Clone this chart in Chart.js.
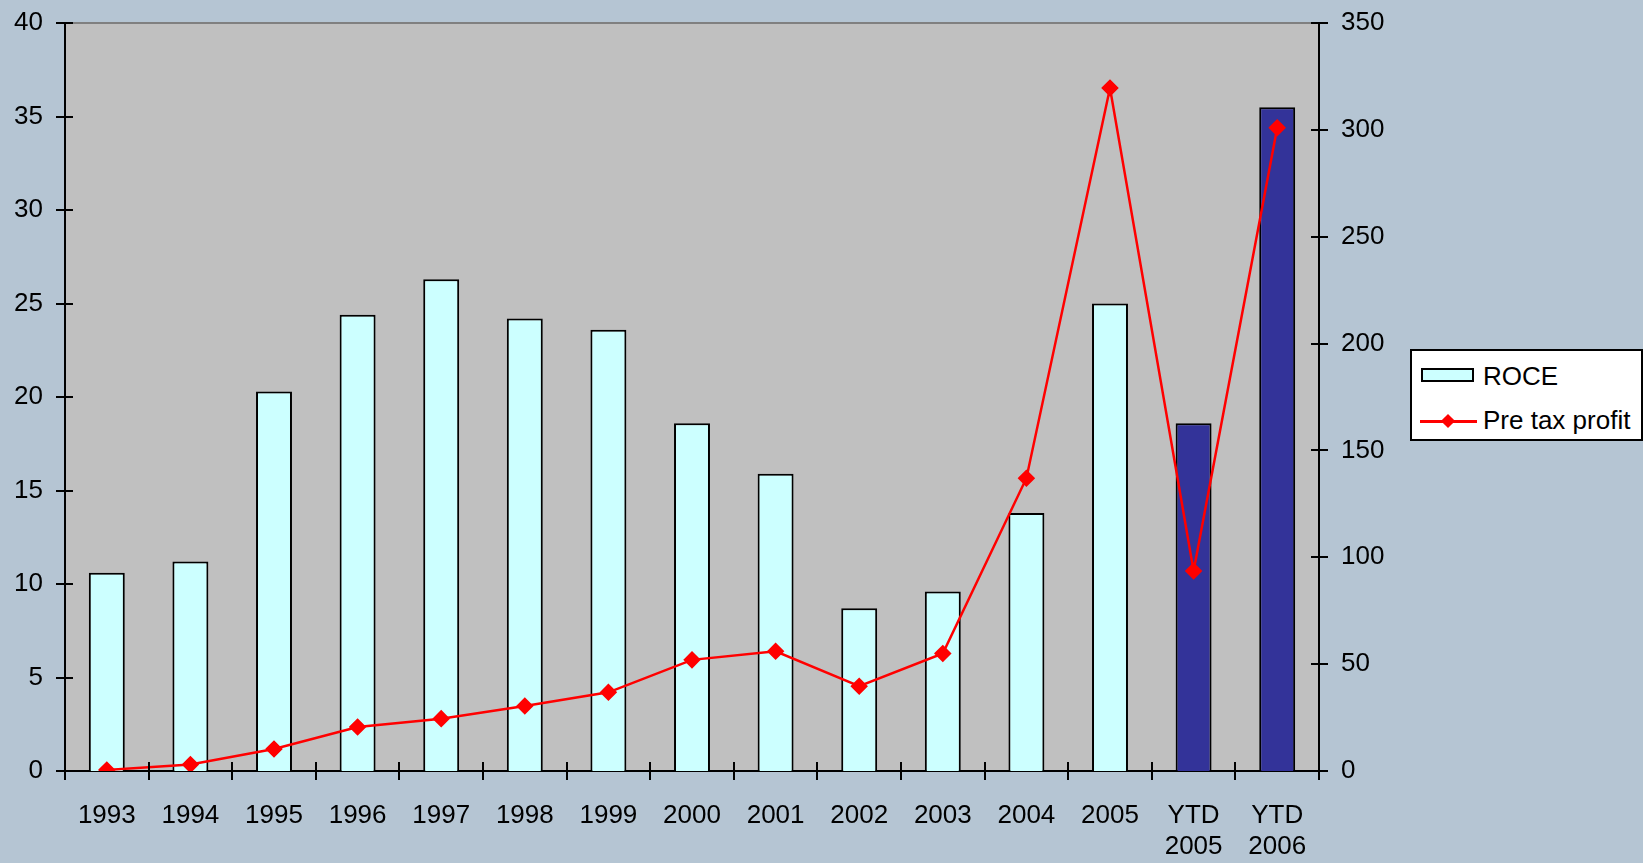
<!DOCTYPE html>
<html>
<head>
<meta charset="utf-8">
<script src="https://cdn.jsdelivr.net/npm/chart.js@4"></script>
<style>
  html, body { margin: 0; padding: 0; background: #b5c5d3; overflow: hidden; }
  #wrap { position: relative; width: 1643px; height: 863px; }
  #legend { position: absolute; left: 1410px; top: 349px; width: 233px; height: 92px; box-sizing: border-box;
            background: #fff; border: 2px solid #000; font-family: "Liberation Sans", Arial, sans-serif; font-size: 26px; line-height: 26px; }
  #legend .txt { position: absolute; left: 71px; white-space: nowrap; color: #000; }
  #legend .box { position: absolute; left: 9px; top: 17px; width: 53px; height: 14px; box-sizing: border-box; background: #ccffff; border: 2px solid #000; }
  #legend .ln { position: absolute; left: 8px; top: 69px; width: 57px; height: 3px; background: #ff0000; }
  #legend .dm { position: absolute; left: 31px; top: 65px; width: 10px; height: 10px; background: #ff0000; transform: rotate(45deg); }
</style>
</head>
<body>
<div id="wrap">
  <canvas id="roceChart" width="1643" height="863"></canvas>
  <div id="legend">
    <div class="box"></div><div class="txt" style="top:12px">ROCE</div>
    <div class="ln"></div><div class="dm"></div><div class="txt" style="top:56px">Pre tax profit</div>
  </div>
</div>
<script>
"use strict";
const categories = ['1993', '1994', '1995', '1996', '1997', '1998', '1999', '2000', '2001', '2002', '2003', '2004', '2005', ['YTD', '2005'], ['YTD', '2006']];
const roce = [10.6, 11.2, 20.3, 24.4, 26.3, 24.2, 23.6, 18.6, 15.9, 8.7, 9.6, 13.8, 25.0, 18.6, 35.5];
const preTaxProfit = [0.5, 3, 10.3, 20.6, 24.5, 30.4, 36.8, 52, 56, 39.7, 55, 137, 319.6, 93.6, 301];
const roceTicks = [0, 5, 10, 15, 20, 25, 30, 35, 40];
const profitTicks = [0, 50, 100, 150, 200, 250, 300, 350];

const barColors = categories.map(c => Array.isArray(c) ? '#333399' : '#ccffff');
const tickFont = { family: '"Liberation Sans", Arial, sans-serif', size: 26 };

// plot background, top line and the tick marks that cross the axes
const frame = {
    id: 'frame',
    beforeDraw(chart) {
        const { ctx, chartArea: a } = chart;
        ctx.save();
        ctx.fillStyle = '#c0c0c0';
        ctx.fillRect(a.left, a.top, a.right - a.left, a.bottom - a.top);
        ctx.strokeStyle = '#808080';
        ctx.lineWidth = 2;
        ctx.beginPath();
        ctx.moveTo(a.left, a.top);
        ctx.lineTo(a.right, a.top);
        ctx.stroke();
        ctx.restore();
    },
    afterDraw(chart) {
        const { ctx, chartArea: a, scales } = chart;
        ctx.save();
        ctx.strokeStyle = '#000';
        ctx.lineWidth = 2;
        ctx.beginPath();
        roceTicks.forEach(v => {
            const y = Math.round(scales.y.getPixelForValue(v));
            ctx.moveTo(a.left - 9, y); ctx.lineTo(a.left + 8, y);
        });
        profitTicks.forEach(v => {
            const y = Math.round(scales.y1.getPixelForValue(v));
            ctx.moveTo(a.right - 8, y); ctx.lineTo(a.right + 9, y);
        });
        const step = (a.right - a.left) / categories.length;
        for (let i = 0; i <= categories.length; i++) {
            const x = Math.round(a.left + i * step);
            ctx.moveTo(x, a.bottom - 9); ctx.lineTo(x, a.bottom + 9);
        }
        ctx.stroke();
        ctx.restore();
    }
};

new Chart(document.getElementById('roceChart'), {
    type: 'bar',
    data: {
        labels: categories,
        datasets: [{
            type: 'line',
            label: 'Pre tax profit',
            data: preTaxProfit,
            yAxisID: 'y1',
            borderColor: '#ff0000',
            backgroundColor: '#ff0000',
            borderWidth: 2.5,
            pointStyle: 'rectRot',
            pointRadius: 7,
            pointHoverRadius: 7,
            tension: 0,
            order: 0
        }, {
            label: 'ROCE',
            data: roce,
            yAxisID: 'y',
            backgroundColor: barColors,
            borderColor: '#000',
            borderWidth: 2,
            categoryPercentage: 0.86,
            barPercentage: 0.5,
            order: 1
        }]
    },
    options: {
        responsive: false,
        animation: false,
        devicePixelRatio: 1,
        layout: { padding: { top: 23, left: 0, right: 0, bottom: 0 } },
        plugins: { legend: { display: false }, tooltip: { enabled: false } },
        scales: {
            x: {
                offset: true,
                grid: { display: false, drawTicks: false },
                border: { color: '#000', width: 2 },
                ticks: { color: '#000', font: tickFont, padding: 29, maxRotation: 0, autoSkip: false },
                afterFit(s) { s.height = 92; s.paddingLeft = 0; s.paddingRight = 0; }
            },
            y: {
                position: 'left',
                min: 0, max: 40,
                grid: { display: false, drawTicks: false },
                border: { color: '#000', width: 2 },
                ticks: { stepSize: 5, color: '#000', font: tickFont, padding: 22 },
                afterFit(s) { s.width = 65; s.paddingTop = 0; s.paddingBottom = 0; }
            },
            y1: {
                position: 'right',
                min: 0, max: 350,
                grid: { display: false, drawTicks: false },
                border: { color: '#000', width: 2 },
                ticks: { stepSize: 50, color: '#000', font: tickFont, padding: 22 },
                afterFit(s) { s.width = 324; s.paddingTop = 0; s.paddingBottom = 0; }
            }
        }
    },
    plugins: [frame]
});
</script>
</body>
</html>
